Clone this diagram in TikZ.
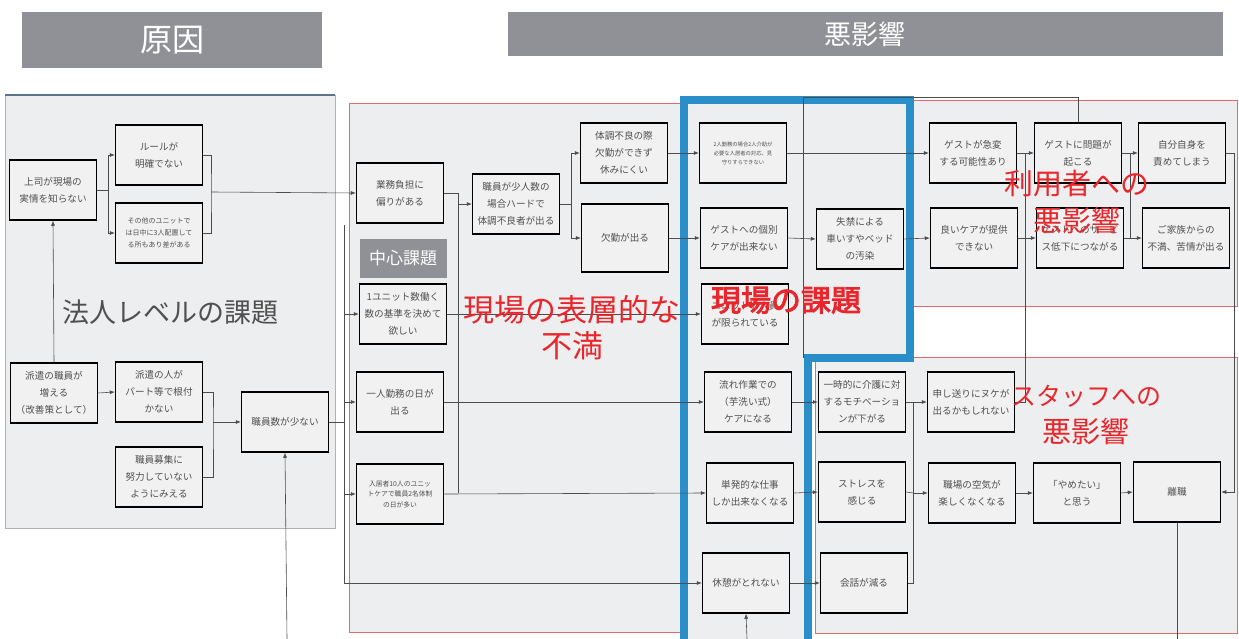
\documentclass[tikz,border=0pt]{standalone}
\usepackage{fontspec}
\setmainfont{Noto Sans CJK JP}
\newfontfamily\cjkbold[FakeBold=3]{Noto Sans CJK JP}
\usetikzlibrary{arrows.meta}
\definecolor{hdr}{HTML}{8F9196}
\definecolor{panel}{HTML}{EDEEF0}
\definecolor{boxfill}{HTML}{F1F1F2}
\definecolor{bluec}{HTML}{2A8FC8}
\definecolor{redc}{HTML}{E8262B}
\definecolor{redl}{HTML}{E6686B}
\definecolor{txt}{HTML}{505050}
\definecolor{lpanel}{HTML}{5A7390}
\tikzset{
  box/.style={draw=black, line width=1.5pt, fill=boxfill, minimum width=87pt, minimum height=60pt,
    align=center, text=txt, font=\fontsize{9.6}{17}\selectfont, inner sep=2pt},
  smallbox/.style={box, font=\fontsize{7}{12}\selectfont},
  m4box/.style={box, font=\fontsize{6.8}{10.5}\selectfont},
  tinybox/.style={box, font=\fontsize{5.3}{9}\selectfont},
  hdrbox/.style={fill=hdr, text=white, inner sep=0pt},
  conn/.style={draw=gray!60!black, line width=0.6pt},
  arr/.style={conn, -{Latex[length=5pt,width=4pt]}},
  redtxt/.style={text=redc, align=center, font=\fontsize{28}{35}\selectfont},
}
\begin{document}
\begin{tikzpicture}[x=1pt,y=-1pt]
\useasboundingbox (0,0) rectangle (1239,639);
\fill[white] (0,0) rectangle (1239,639);

% headers
\node[hdrbox, minimum width=300pt, minimum height=56pt, font=\fontsize{32}{34}\selectfont] (h1) at (172,40) {原因};
\node[hdrbox, minimum width=715pt, minimum height=44pt, font=\fontsize{27}{29}\selectfont] (h2) at (865,34) {悪影響};

% panels
\draw[fill=panel, draw=gray!60] (5,95) rectangle (335,528);
\draw[lpanel, line width=1.2pt] (5,95) -- (335,95);
\draw[fill=panel, draw=redl] (349,103) rectangle (684,632);
\draw[fill=panel, draw=redl] (905,100) rectangle (1237,306);
\draw[fill=panel, draw=redl] (815,357) rectangle (1237,633);
\fill[panel] (684,639) -- (684,100) -- (910,100) -- (910,358) -- (808,358) -- (808,639) -- cycle;
\draw[bluec, line width=8pt] (684,639) -- (684,100) -- (910,100) -- (910,358) -- (808,358) -- (808,639);

% left nodes
\node[box] (L1) at (53,190) {上司が現場の\\実情を知らない};
\node[box] (L2) at (159,155) {ルールが\\明確でない};
\node[smallbox] (L3) at (159,233) {その他のユニットで\\は日中に3人配置して\\る所もあり差がある};
\node[box] (L4) at (54,393) {派遣の職員が\\増える\\（改善策として）};
\node[box] (L5) at (159,392) {派遣の人が\\パート等で根付\\かない};
\node[box] (L6) at (159,477) {職員募集に\\努力していない\\ようにみえる};
\node[box] (L7) at (285,422) {職員数が少ない};
\node[text=txt, font=\fontsize{27}{30}\selectfont] (t1) at (170,312) {法人レベルの課題};

% middle nodes
\node[box] (M1) at (400,193) {業務負担に\\偏りがある};
\node[hdrbox, minimum width=87pt, minimum height=39pt, font=\fontsize{17}{19}\selectfont] (c1) at (403,258) {中心課題};
\node[box] (M2) at (403,314) {1ユニット数働く\\数の基準を決めて\\欲しい};
\node[box] (M3) at (400,402) {一人勤務の日が\\出る};
\node[m4box] (M4) at (400,494) {入居者10人のユニッ\\トケアで職員2名体制\\の日が多い};
\node[box] (M5) at (516,204) {職員が少人数の\\場合ハードで\\体調不良者が出る};
\node[box] (M6) at (624,153) {体調不良の際\\欠勤ができず\\休みにくい};
\node[box, minimum height=68pt] (M7) at (625,238) {欠勤が出る};

% blue column nodes
\node[tinybox] (B1) at (743,153) {2人勤務の場合2人介助が\\必要な入居者の対応、見\\守りすらできない};
\node[box] (B2) at (744,238) {ゲストへの個別\\ケアが出来ない};
\node[box] (B3) at (745,314) {ユニットの人員\\が限られている};
\node[box] (B4) at (860,239) {失禁による\\車いすやベッド\\の汚染};
\node[box] (B5) at (748,402) {流れ作業での\\（芋洗い式）\\ケアになる};
\node[box] (B6) at (750,493) {単発的な仕事\\しか出来なくなる};
\node[box] (B7) at (746,583) {休憩がとれない};

% right top nodes
\node[box] (R1) at (973,153) {ゲストが急変\\する可能性あり};
\node[box] (R2) at (1078,153) {ゲストに問題が\\起こる};
\node[box] (R3) at (1182,153) {自分自身を\\責めてしまう};
\node[box] (R4) at (974,238) {良いケアが提供\\できない};
\node[box] (R5) at (1080,238) {ゲストへのサービ\\ス低下につながる};
\node[box] (R6) at (1186,238) {ご家族からの\\不満、苦情が出る};

% right bottom nodes
\node[box] (S1) at (862,402) {一時的に介護に対\\するモチベーショ\\ンが下がる};
\node[box] (S2) at (862,492) {ストレスを\\感じる};
\node[box] (S3) at (864,583) {会話が減る};
\node[box] (S4) at (971,402) {申し送りにヌケが\\出るかもしれない};
\node[box] (S5) at (972,493) {職場の空気が\\楽しくなくなる};
\node[box] (S6) at (1077,493) {「やめたい」\\と思う};
\node[box] (S7) at (1177,492) {離職};

% connectors left
\coordinate (j1) at (108,190);
\draw[conn] (L1.east) -- (j1);
\draw[arr] (j1) |- (L2.west);
\draw[arr] (j1) |- (L3.west);
\coordinate (j2) at (211,192);
\draw[conn] (L2.east) -| (j2) |- (L3.east);
\draw[arr] (j2) -- (M1.west);
\draw[arr] (L4.north) -- (L1.south);
\draw[arr] (L4.east) -- (L5.west);
\coordinate (j3) at (213,422);
\draw[conn] (L5.east) -| (j3) |- (L6.east);
\draw[arr] (j3) -- (L7.west);
\coordinate (b1) at (287,639);
\draw[arr] (b1) -- (L7.south);
\coordinate (j4) at (344,422);
\coordinate (j4t) at (344,225);
\coordinate (j4b) at (344,583);
\draw[conn] (L7.east) -- (j4);
\draw[conn] (j4t) -- (j4b);
\draw[arr] (j4 |- M2.west) -- (M2.west);
\draw[arr] (j4 |- M3.west) -- (M3.west);
\draw[arr] (j4 |- M4.west) -- (M4.west);
\draw[arr] (j4b) -- (B7.west);

% connectors middle
\coordinate (j5) at (458,193);
\draw[conn] (M1.east) -- (j5) -- (458,493);
\draw[arr] (j5) |- (M5.west);
\coordinate (j6) at (571,204);
\draw[conn] (M5.east) -- (j6);
\draw[arr] (j6) |- (M6.west);
\draw[arr] (j6) |- (M7.west);
\draw[arr] (M6.east) -- (B1.west);
\draw[arr] (M7.east) -- (B2.west);
\draw[arr] (M2.east) -- (B3.west);
\draw[arr] (M3.east) -- (B5.west);
\draw[arr] (M4.east) -- (B6.west);

% connectors blue column / right
\draw[arr] (B2.east) -- (B4.west);
\draw[arr] (B1.east) -- (R1.west);
\draw[arr] (B4.east) -- (R4.west);
\draw[arr] (R1.east) -- (R2.west);
\draw[arr] (R2.east) -- (R3.west);
\draw[arr] (R4.east) -- (R5.west);
\draw[arr] (R5.east) -- (R6.west);
\draw[conn] (1130,153) -- (1130,238);
\draw[conn] (S4.east) -| (1025,153);
\draw[conn] (803,358) -- (803,97) -| (R2.north);
\draw[arr] (B5.east) -- (S1.west);
\draw[arr] (B6.east) -- (S2.west);
\draw[arr] (B7.east) -- (S3.west);
\coordinate (j7) at (913,402);
\coordinate (j8) at (913,493);
\draw[conn] (S1.east) -- (j7);
\draw[conn] (S2.east) -- (j8);
\draw[conn] (S3.east) -| (j7);
\draw[arr] (j7) -- (S4.west);
\draw[arr] (j8) -- (S5.west);
\draw[arr] (S5.east) -- (S6.west);
\draw[arr] (S6.east) -- (S7.west);
\coordinate (e1) at (1234,153);
\draw[conn] (R3.east) -- (e1);
\draw[arr] (e1) |- (S7.east);
\coordinate (b2) at (1177,639);
\draw[conn] (S7.south) -- (b2);
\coordinate (b3) at (747,639);
\draw[arr] (b3) -- (B7.south);

% big labels
\node[redtxt, font=\fontsize{31}{36}\selectfont] (t2) at (572,328) {現場の表層的な\\不満};
\node[text=redc, font=\fontsize{30}{32}\selectfont\cjkbold] (t3) at (786,300) {現場の課題};
\node[redtxt, font=\fontsize{29}{37}\selectfont] (t4) at (1077,202) {利用者への\\悪影響};
\node[redtxt, font=\fontsize{29}{37}\selectfont] (t5) at (1086,415) {{\fontsize{25}{30}\selectfont スタッフへの}\\悪影響};
\end{tikzpicture}
\end{document}
